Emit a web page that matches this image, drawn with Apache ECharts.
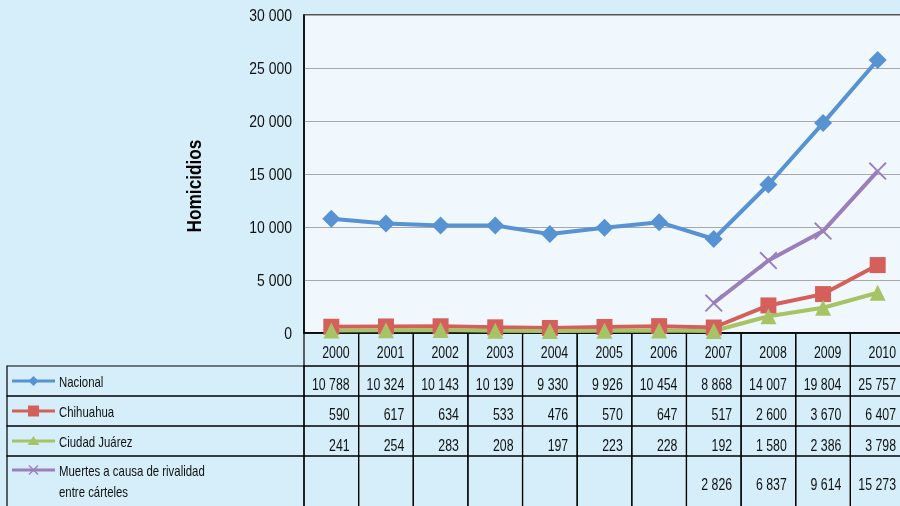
<!DOCTYPE html>
<html>
<head>
<meta charset="utf-8">
<script src="https://cdn.jsdelivr.net/npm/echarts@6/dist/echarts.min.js"></script>
<style>
    html, body { margin: 0; padding: 0; background: #d5eef9; }
    #main { width: 900px; height: 506px; }
</style>
</head>
<body>
<div id="main"></div>
<script>
'use strict';
var years = ['2000', '2001', '2002', '2003', '2004', '2005', '2006', '2007', '2008', '2009', '2010'];
var nacional = [10788, 10324, 10143, 10139, 9330, 9926, 10454, 8868, 14007, 19804, 25757];
var chihuahua = [590, 617, 634, 533, 476, 570, 647, 517, 2600, 3670, 6407];
var juarez = [241, 254, 283, 208, 197, 223, 228, 192, 1580, 2386, 3798];
var carteles = [null, null, null, null, null, null, null, 2826, 6837, 9614, 15273];
var yTicks = [0, 5000, 10000, 15000, 20000, 25000, 30000];

var names = ['Nacional', 'Chihuahua', 'Ciudad Juárez', 'Muertes a causa de rivalidad entre cárteles'];
var labelLines = [['Nacional'], ['Chihuahua'], ['Ciudad Juárez'], ['Muertes a causa de rivalidad', 'entre cárteles']];
var colors = ['#5793d2', '#d45f5b', '#a6c466', '#9b7fbb'];
var FONT = "'Liberation Sans', Arial, sans-serif";
var NARROW = 0.77; // no condensed face installed, squeeze the text instead
var XMARK = 'path://M0,1.5L1.5,0L10,8.5L18.5,0L20,1.5L11.5,10L20,18.5L18.5,20L10,11.5L1.5,20L0,18.5L8.5,10Z';

function fmt(v) {
    if (v == null) { return ''; }
    return String(v).replace(/\B(?=(\d{3})+(?!\d))/g, ' ');
}

// table rows: header (years) + one row per series
var rows = [years, nacional, chihuahua, juarez, carteles];
var rowTop = [0, 33, 63, 93, 123];
var rowH = [33, 30, 30, 30, 60];
var textOff = [21, 20, 20, 21, 30];
var tableData = [];
for (var i = 0; i < years.length; i++) {
    for (var r = 0; r < rows.length; r++) {
        tableData.push([i, r]);
    }
}

function narrowText(x, y, text, align, size, scale) {
    return {
        type: 'text',
        x: x, y: y, scaleX: scale,
        style: {
            x: 0, y: 0, text: text,
            align: align, verticalAlign: 'middle',
            font: size + 'px ' + FONT, fill: '#111'
        }
    };
}

function keySymbol(k, cx, cy) {
    var pts;
    if (k === 0) {
        pts = [[cx, cy - 5], [cx + 5, cy], [cx, cy + 5], [cx - 5, cy]];
    } else if (k === 1) {
        pts = [[cx - 5.5, cy - 5.5], [cx + 5.5, cy - 5.5], [cx + 5.5, cy + 5.5], [cx - 5.5, cy + 5.5]];
    } else if (k === 2) {
        pts = [[cx, cy - 5], [cx + 6, cy + 4], [cx - 6, cy + 4]];
    } else {
        var a = 5, t = 0.9;
        pts = [[cx - a, cy - a + t], [cx - a + t, cy - a], [cx, cy - t], [cx + a - t, cy - a], [cx + a, cy - a + t],
            [cx + t, cy], [cx + a, cy + a - t], [cx + a - t, cy + a], [cx, cy + t], [cx - a + t, cy + a],
            [cx - a, cy + a - t], [cx - t, cy]];
    }
    return { type: 'polygon', shape: { points: pts }, style: { fill: colors[k] } };
}

function renderCell(params, api) {
    var ci = api.value(0);
    var r = api.value(1);
    var base = api.coord([ci, 0]);
    var w = api.size([1, 0])[0];
    var x = base[0] - w / 2;
    var y = base[1] + rowTop[r];
    var val = rows[r][ci];
    var children = [{
        type: 'rect',
        shape: { x: x, y: y, width: w, height: rowH[r] },
        style: { fill: null, stroke: '#000', lineWidth: 1.2 }
    }, narrowText(x + w - 9, y + textOff[r], r === 0 ? val : fmt(val), 'right', 16, NARROW)];
    if (ci === 0 && r > 0) {
        var k = r - 1;
        var iy = y + (r === 4 ? 14 : 15);
        children.push({
            type: 'rect',
            shape: { x: 7, y: y, width: x - 7, height: rowH[r] },
            style: { fill: null, stroke: '#000', lineWidth: 1.2 }
        }, {
            type: 'line',
            shape: { x1: 12, y1: iy, x2: 55, y2: iy },
            style: { stroke: colors[k], lineWidth: 3 }
        }, keySymbol(k, 33.5, iy));
        labelLines[k].forEach(function (t, j) {
            children.push(narrowText(59, iy + 1.5 + j * 21, t, 'left', 15, 0.76));
        });
    }
    return { type: 'group', children: children };
}

function renderTick(params, api) {
    var p = api.coord([0, api.value(1)]);
    return narrowText(292, p[1] + 1, fmt(api.value(1)), 'right', 17, 0.82);
}

function lineSeries(k, data, symbol, size) {
    return {
        name: names[k],
        type: 'line',
        data: data,
        symbol: symbol,
        symbolSize: size,
        showAllSymbol: true,
        clip: true,
        z: 3,
        lineStyle: { color: colors[k], width: 4 },
        itemStyle: { color: colors[k] }
    };
}

var chart = echarts.init(document.getElementById('main'), null, { renderer: 'canvas' });
chart.setOption({
    backgroundColor: '#d5eef9',
    animation: false,
    graphic: [{
        type: 'text',
        x: 195, y: 186,
        rotation: Math.PI / 2,
        scaleX: 0.82,
        style: {
            text: 'Homicidios',
            font: 'bold 21px ' + FONT, fill: '#000',
            align: 'center', verticalAlign: 'middle'
        }
    }],
    grid: {
        left: 304, top: 15, width: 601, height: 318,
        outerBoundsMode: 'none',
        show: true, backgroundColor: '#f0f8fd', borderColor: '#222', borderWidth: 1.5
    },
    xAxis: {
        type: 'category',
        data: years,
        boundaryGap: true,
        axisLine: { lineStyle: { color: '#000', width: 1.5 } },
        axisTick: { show: false },
        axisLabel: { show: false }
    },
    yAxis: {
        type: 'value',
        min: yTicks[0],
        max: yTicks[yTicks.length - 1],
        interval: yTicks[1] - yTicks[0],
        axisLine: { show: true, lineStyle: { color: '#000', width: 1.5 } },
        axisTick: { show: false },
        axisLabel: { show: false },
        splitLine: { lineStyle: { color: '#a8a8a8', width: 1.2 } }
    },
    series: [
        {
            type: 'custom',
            renderItem: renderCell,
            data: tableData,
            clip: false,
            silent: true,
            z: 1
        },
        {
            type: 'custom',
            renderItem: renderTick,
            data: yTicks.map(function (v) { return [0, v]; }),
            clip: false,
            silent: true,
            z: 1
        },
        lineSeries(0, nacional, 'diamond', 18),
        lineSeries(1, chihuahua, 'rect', 16),
        lineSeries(2, juarez, 'triangle', 16),
        lineSeries(3, carteles, XMARK, 18)
    ]
});
</script>
</body>
</html>
